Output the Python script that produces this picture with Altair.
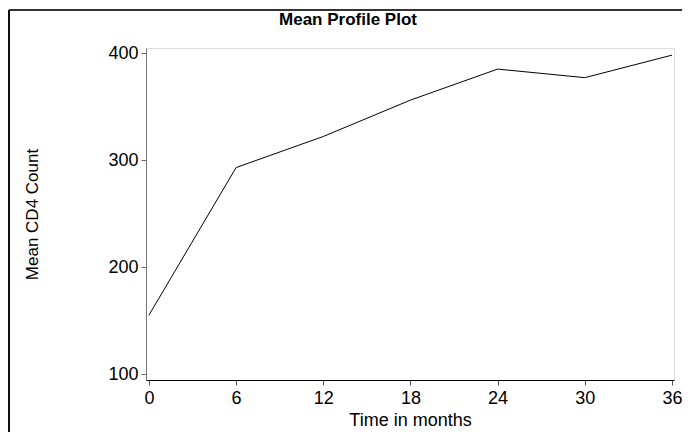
import altair as alt
import pandas as pd

months = [0, 6, 12, 18, 24, 30, 36]
mean_cd4 = [155, 293, 322, 356, 385, 377, 398]
x_ticks = [0, 6, 12, 18, 24, 30, 36]
y_ticks = [100, 200, 300, 400]

df = pd.DataFrame({"month": months, "cd4": mean_cd4})

FONT = "Liberation Sans"

line = alt.Chart(df).mark_line(color="black", strokeWidth=1, clip=False).encode(
    x=alt.X(
        "month:Q",
        scale=alt.Scale(domain=[-0.2, 36.14], nice=False, zero=False),
        axis=alt.Axis(
            values=x_ticks,
            title="Time in months",
            titleFontSize=18,
            titleFontWeight="normal",
            titleFont=FONT,
            titleColor="black",
            titleY=40,
            titleBaseline="middle",
            labelFontSize=18,
            labelFont=FONT,
            labelColor="black",
            labelPadding=4,
            tickSize=5,
            tickColor="#555",
            domainColor="black",
            grid=False,
        ),
    ),
    y=alt.Y(
        "cd4:Q",
        scale=alt.Scale(domain=[94.5, 404.7], nice=False, zero=False),
        axis=alt.Axis(
            values=y_ticks,
            title="Mean CD4 Count",
            titleFontSize=17,
            titleFontWeight="normal",
            titleFont=FONT,
            titleColor="black",
            titleX=-114,
            titleY=166,
            titleAngle=-90,
            titleAlign="center",
            titleBaseline="middle",
            labelFontSize=18,
            labelFont=FONT,
            labelColor="black",
            labelPadding=3,
            tickSize=5,
            tickColor="#666",
            domainColor="#777",
            grid=False,
        ),
    ),
)

frame_top = alt.Chart(df).mark_rule(color="#333", strokeWidth=1.2, clip=False).encode(
    x=alt.value(-137), x2=alt.value(536), y=alt.value(-38)
)
frame_left = alt.Chart(df).mark_rule(color="#111", strokeWidth=1.5, clip=False).encode(
    x=alt.value(-137), y=alt.value(-38), y2=alt.value(400)
)

chart = (
    alt.layer(frame_top, frame_left, line)
    .properties(
        width=528,
        height=332,
        autosize=alt.AutoSizeParams(type="none"),
        padding={"left": 138, "top": 40, "right": 8, "bottom": 52},
        title=alt.TitleParams(
            "Mean Profile Plot",
            fontSize=17,
            fontWeight="bold",
            font=FONT,
            color="black",
            anchor="middle",
            dx=-62,
            offset=-20,
        ),
    )
    .configure_view(stroke="#666", strokeWidth=1.5)
    .configure(background="white")
)

chart.save("out.html", embed_options={"renderer": "svg", "actions": False})
